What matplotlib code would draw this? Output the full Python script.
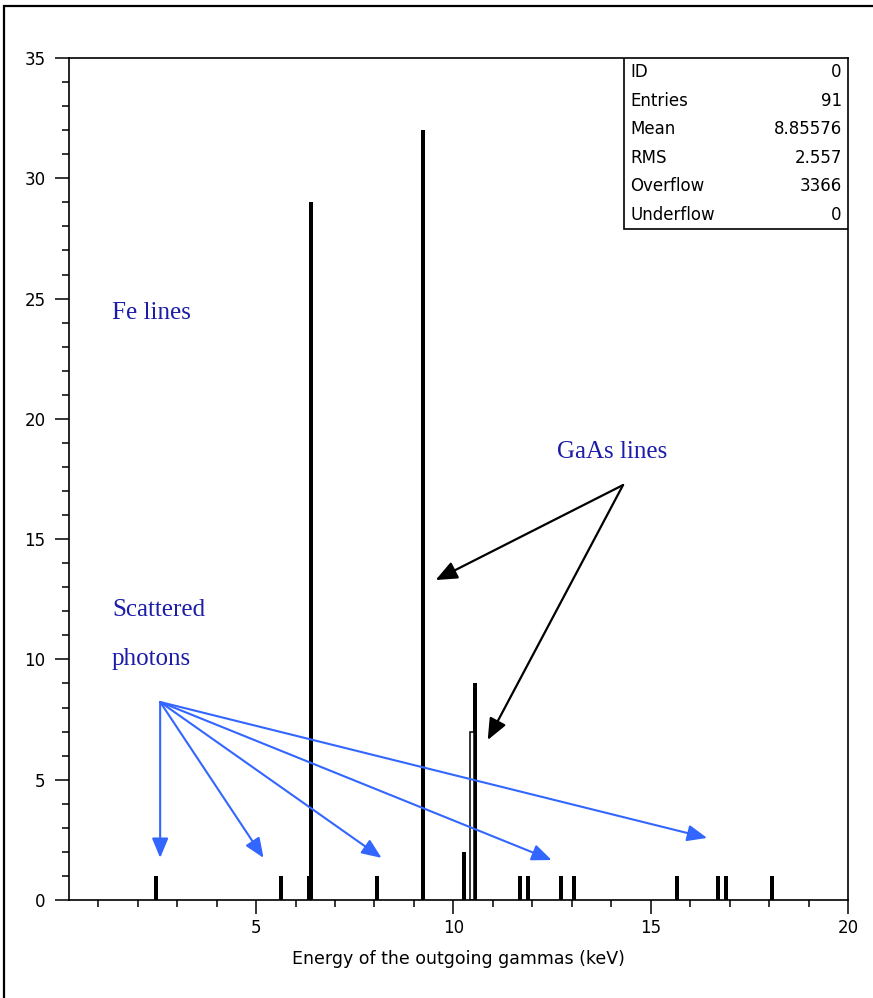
import matplotlib
matplotlib.use("Agg")
import matplotlib.pyplot as plt
from matplotlib.patches import Rectangle

# ---- data (bin centres in keV, counts) ----
bin_centers = [2.47, 5.64, 6.33, 6.40, 8.07, 9.23, 10.27, 10.56,
               11.68, 11.88, 12.73, 13.05, 15.66, 16.70, 16.90, 18.07]
bin_counts = [1, 1, 1, 29, 1, 32, 2, 9,
              1, 1, 1, 1, 1, 1, 1, 1]
hollow_center = [10.48]
hollow_count = [7]

stat_labels = ["ID", "Entries", "Mean", "RMS", "Overflow", "Underflow"]
stat_values = ["0", "91", "8.85576", "2.557", "3366", "0"]

xlabel = "Energy of the outgoing gammas (keV)"
xlim = (0.26, 20.0)
ylim = (0, 35)

W, H = 873, 998
fig = plt.figure(figsize=(W / 100, H / 100), dpi=100)
fig.patch.set_facecolor("white")

# outer frame
fig.patches.append(Rectangle((4 / W, -0.01), 1.02, (H - 6) / H + 0.01,
                             transform=fig.transFigure, fill=False,
                             edgecolor="black", linewidth=1.6))

ax = fig.add_axes([69 / W, 98 / H, (848 - 69) / W, (900 - 58) / H])
ax.bar(bin_centers, bin_counts, width=0.1, color="black", linewidth=0)
ax.bar(hollow_center, hollow_count, width=0.1, facecolor="white",
       edgecolor="black", linewidth=1.1)

ax.set_xlim(*xlim)
ax.set_ylim(*ylim)
ax.set_xticks([5, 10, 15, 20])
ax.set_xticks(range(1, 20), minor=True)
ax.set_yticks(range(0, 36, 5))
ax.set_yticks(range(0, 36), minor=True)
ax.tick_params(which="major", direction="out", length=10, width=1.1,
               labelsize=12, color="black")
ax.tick_params(which="minor", direction="out", length=5, width=1.1)
ax.tick_params(axis="y", which="major", pad=7)
ax.tick_params(axis="x", which="major", pad=4)
for s in ax.spines.values():
    s.set_linewidth(1.2)
ax.set_xlabel(xlabel, fontsize=12.5, labelpad=9)

# stats box
bx0 = (624 - 69) / (848 - 69)
by0 = (900 - 229) / (900 - 58)
ax.add_patch(Rectangle((bx0, by0), 1 - bx0, 1 - by0, transform=ax.transAxes,
                       facecolor="white", edgecolor="black", linewidth=1.2,
                       zorder=5))
row_h = (1 - by0) / len(stat_labels)
for i, (lab, val) in enumerate(zip(stat_labels, stat_values)):
    yy = 1 - row_h * (i + 0.5)
    ax.text(bx0 + 0.008, yy, lab, transform=ax.transAxes, ha="left",
            va="center", fontsize=12, zorder=6)
    ax.text(0.992, yy, val, transform=ax.transAxes, ha="right",
            va="center", fontsize=12, zorder=6)

# annotations
tcol = "#1c1ca8"
serif = ["Liberation Serif", "DejaVu Serif"]
ax.text(1.35, 24.4, "Fe lines", color=tcol, fontsize=18, family=serif,
        va="center", ha="left")
ax.text(12.62, 18.62, "GaAs lines", color=tcol, fontsize=18, family=serif,
        va="center", ha="left")
ax.text(1.35, 12.05, "Scattered", color=tcol, fontsize=18, family=serif,
        va="center", ha="left")
ax.text(1.35, 10.02, "photons", color=tcol, fontsize=18, family=serif,
        va="center", ha="left")

black_start = (14.30, 17.25)
for end in [(9.55, 13.30), (10.87, 6.65)]:
    ax.annotate("", xy=end, xytext=black_start,
                arrowprops=dict(arrowstyle="-|>,head_length=1.3,head_width=0.55",
                                color="black", lw=1.6, shrinkA=0, shrinkB=0))

blue_start = (2.57, 8.23)
for end in [(2.57, 1.75), (5.19, 1.75), (8.18, 1.75), (12.49, 1.66),
            (16.43, 2.58)]:
    ax.annotate("", xy=end, xytext=blue_start,
                arrowprops=dict(arrowstyle="-|>,head_length=1.2,head_width=0.5",
                                color="#3366ff", lw=1.5, shrinkA=0, shrinkB=0))

fig.savefig("out.png", dpi=100)
